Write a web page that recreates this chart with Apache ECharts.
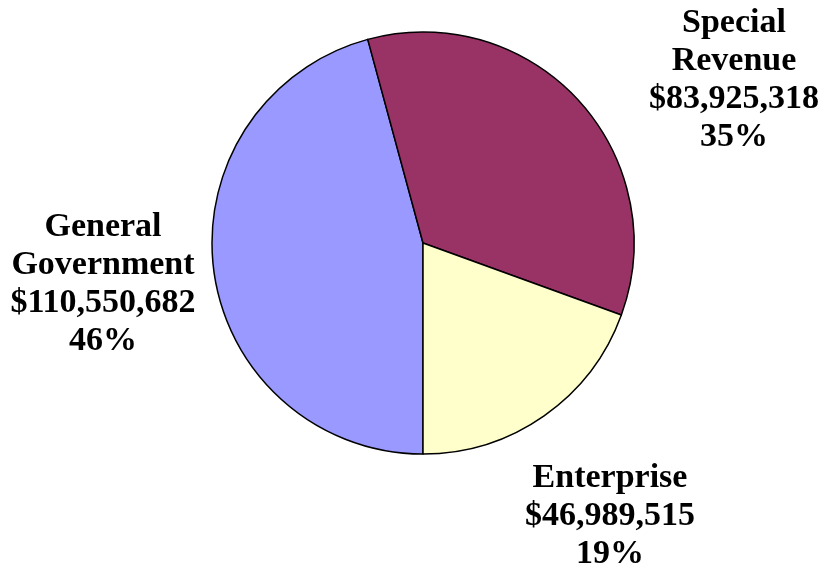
<!DOCTYPE html>
<html>
<head>
<meta charset="utf-8">
<script src="https://cdn.jsdelivr.net/npm/echarts@6/dist/echarts.min.js"></script>
<style>html,body{margin:0;padding:0;background:#fff;}#c{width:822px;height:569px;}</style>
</head>
<body>
<div id="c"></div>
<script>
var categories = ['General Government', 'Special Revenue', 'Enterprise'];
var values = [110550682, 83925318, 46989515];
var colors = ['#9999FF', '#993366', '#FFFFCC'];
var labelSpots = [[103, 284], [734, 80], [610, 516]];

var chart = echarts.init(document.getElementById('c'));
chart.setOption({
  backgroundColor: '#ffffff',
  animation: false,
  series: [{
    type: 'pie',
    center: [423, 243],
    radius: 211,
    startAngle: 270,
    clockwise: true,
    percentPrecision: 0,
    data: categories.map(function (n, i) {
      return { name: n, value: values[i], itemStyle: { color: colors[i] } };
    }),
    itemStyle: { borderColor: '#000000', borderWidth: 1.5 },
    label: {
      show: true,
      position: 'outside',
      formatter: function (p) {
        return p.name.replace(' ', '\n') + '\n$' + p.value.toLocaleString('en-US') + '\n' + p.percent + '%';
      },
      fontFamily: '"Liberation Serif", "Times New Roman", serif',
      fontWeight: 'bold',
      fontSize: 34,
      lineHeight: 38,
      color: '#000000',
      align: 'center',
      overflow: 'none',
      width: 400
    },
    labelLine: { show: false },
    labelLayout: function (p) {
      var s = labelSpots[p.dataIndex];
      return { x: s[0], y: s[1], align: 'center', verticalAlign: 'middle' };
    },
    emphasis: { disabled: true }
  }]
});
</script>
</body>
</html>
